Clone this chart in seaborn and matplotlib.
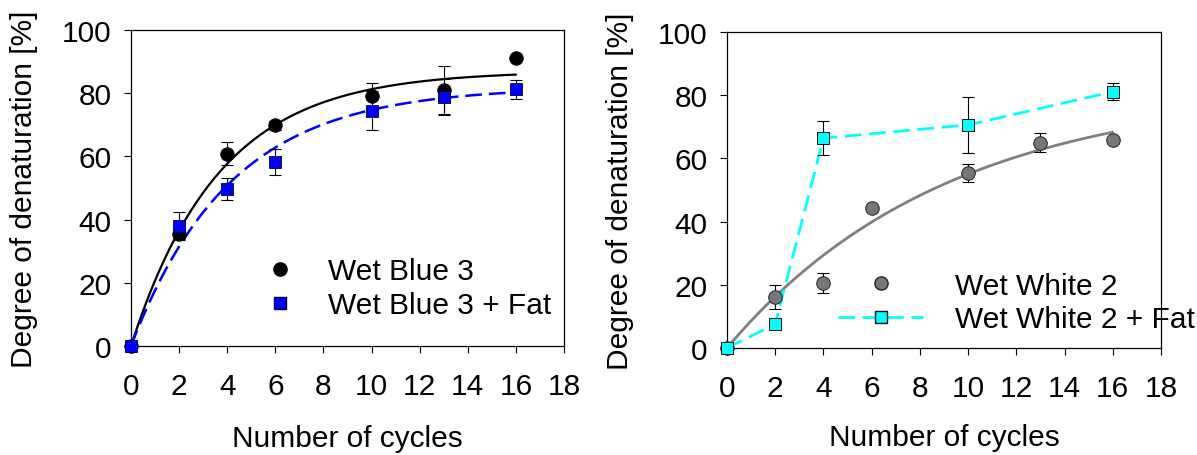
import numpy as np
import seaborn as sns
import matplotlib
matplotlib.use("Agg")
import matplotlib.pyplot as plt
from matplotlib.lines import Line2D

# === data ===
cycles = [0, 2, 4, 6, 10, 13, 16]

wb3 = [0, 35.3, 60.9, 69.8, 79.1, 81.0, 91.0]
wb3_err = [0, 1.5, 3.7, 1.5, 4.2, 7.5, 0]
wb3_fat = [0, 38.0, 49.6, 58.2, 74.4, 78.8, 81.2]
wb3_fat_err = [0, 4.5, 3.5, 4.0, 6.2, 5.7, 3.0]

ww2 = [0, 16.0, 20.5, 44.3, 55.4, 64.9, 65.9]
ww2_err = [0, 3.8, 3.2, 0, 2.8, 3.0, 0]
cycles_fat = [0, 2, 4, 10, 16]
ww2_fat = [0, 7.6, 66.4, 70.6, 81.1]
ww2_fat_err = [0, 0, 5.3, 8.9, 2.7]

# exponential rise fits y = a * (1 - exp(-k x)) (a, k)
fit_wb3 = (87.0, 0.272)
fit_wb3_fat = (82.0, 0.242)
fit_ww2 = (82.5, 0.11)

xticks = list(range(0, 20, 2))
yticks = list(range(0, 120, 20))

sns.set_theme(style="ticks")
plt.rcParams["font.family"] = ["Liberation Sans", "DejaVu Sans"]
plt.rcParams["lines.scale_dashes"] = False
for key in ["text.color", "axes.labelcolor", "xtick.color", "ytick.color"]:
    plt.rcParams[key] = "black"
FS = 21.5

fig = plt.figure(figsize=(11.97, 4.56), dpi=100)
ax1 = fig.add_axes([131 / 1197, 1 - 347 / 456, 433 / 1197, 316 / 456])
ax2 = fig.add_axes([727 / 1197, 1 - 349 / 456, 434 / 1197, 316 / 456])


def fit_curve(params):
    a, k = params
    xx = np.linspace(0, 16, 200)
    return xx, a * (1 - np.exp(-k * xx))


def style_axes(ax, xpad):
    ax.set_xlim(0, 18)
    ax.set_ylim(0, 100)
    ax.set_xticks(xticks)
    ax.set_yticks(yticks)
    ax.tick_params(axis="both", labelsize=FS, direction="out", length=5,
                   width=0.8, color="black", labelcolor="black")
    ax.tick_params(axis="x", pad=14)
    ax.tick_params(axis="y", pad=9)
    for sp in ax.spines.values():
        sp.set_visible(True)
        sp.set_color("black")
        sp.set_linewidth(0.9)
    ax.set_xlabel("Number of cycles", fontsize=FS, labelpad=xpad, color="black")
    ax.set_ylabel("Degree of denaturation [%]", fontsize=FS, labelpad=17,
                  color="black")


# --- left panel: Wet Blue 3 ---
xx, yy = fit_curve(fit_wb3)
sns.lineplot(x=xx, y=yy, ax=ax1, color="black", linewidth=1.6, zorder=2)
xx, yy = fit_curve(fit_wb3_fat)
sns.lineplot(x=xx, y=yy, ax=ax1, color="#0000ff", linewidth=1.8, zorder=2)
ax1.lines[-1].set_dashes((12, 5))

ax1.errorbar(cycles, wb3, yerr=wb3_err, fmt="none", ecolor="black",
             elinewidth=0.8, capsize=4, capthick=0.8, zorder=3)
ax1.errorbar(cycles, wb3_fat, yerr=wb3_fat_err, fmt="none", ecolor="black",
             elinewidth=0.8, capsize=4, capthick=0.8, zorder=3)
sns.scatterplot(x=cycles, y=wb3, ax=ax1, marker="o", s=95, color="black",
                edgecolor="black", linewidth=0.6, zorder=4, clip_on=False)
sns.scatterplot(x=cycles, y=wb3_fat, ax=ax1, marker="s", s=80, color="#0000ff",
                edgecolor="#000033", linewidth=0.6, zorder=5, clip_on=False)

handles1 = [
    Line2D([], [], linestyle="none", marker="o", markersize=9.5,
           markerfacecolor="black", markeredgecolor="black"),
    Line2D([], [], linestyle="none", marker="s", markersize=8.5,
           markerfacecolor="#0000ff", markeredgecolor="#000033"),
]
ax1.legend(handles1, ["Wet Blue 3", "Wet Blue 3 + Fat"], loc="center left",
           bbox_to_anchor=(0.275, 0.1835), frameon=False, fontsize=FS,
           handlelength=2.0, handletextpad=0.6, labelspacing=0.2,
           borderpad=0, borderaxespad=0, labelcolor="black")
style_axes(ax1, 17)

# --- right panel: Wet White 2 ---
xx, yy = fit_curve(fit_ww2)
sns.lineplot(x=xx, y=yy, ax=ax2, color="#808080", linewidth=2.0, zorder=2)
sns.lineplot(x=cycles_fat, y=ww2_fat, ax=ax2, color="#00ffff", linewidth=2.0,
             zorder=2)
ax2.lines[-1].set_dashes((12, 5.5))

ax2.errorbar(cycles, ww2, yerr=ww2_err, fmt="none", ecolor="black",
             elinewidth=0.8, capsize=4, capthick=0.8, zorder=3)
ax2.errorbar(cycles_fat, ww2_fat, yerr=ww2_fat_err, fmt="none", ecolor="black",
             elinewidth=0.8, capsize=4, capthick=0.8, zorder=3)
sns.scatterplot(x=cycles, y=ww2, ax=ax2, marker="o", s=95, color="#777777",
                edgecolor="#222222", linewidth=0.7, zorder=4, clip_on=False)
sns.scatterplot(x=cycles_fat, y=ww2_fat, ax=ax2, marker="s", s=80,
                color="#00ffff", edgecolor="#111111", linewidth=0.7, zorder=5,
                clip_on=False)

handles2 = [
    Line2D([], [], linestyle="none", marker="o", markersize=9.5,
           markerfacecolor="#777777", markeredgecolor="#222222"),
    Line2D([], [], color="#00ffff", linewidth=2.0, dashes=(12, 5.5),
           marker="s", markersize=8.5, markerfacecolor="#00ffff",
           markeredgecolor="#111111"),
]
ax2.legend(handles2, ["Wet White 2", "Wet White 2 + Fat"], loc="center left",
           bbox_to_anchor=(0.256, 0.144), frameon=False, fontsize=FS,
           handlelength=2.85, handletextpad=1.05, labelspacing=0.2,
           borderpad=0, borderaxespad=0, labelcolor="black")
style_axes(ax2, 15)

fig.savefig("out.png", dpi=100)
